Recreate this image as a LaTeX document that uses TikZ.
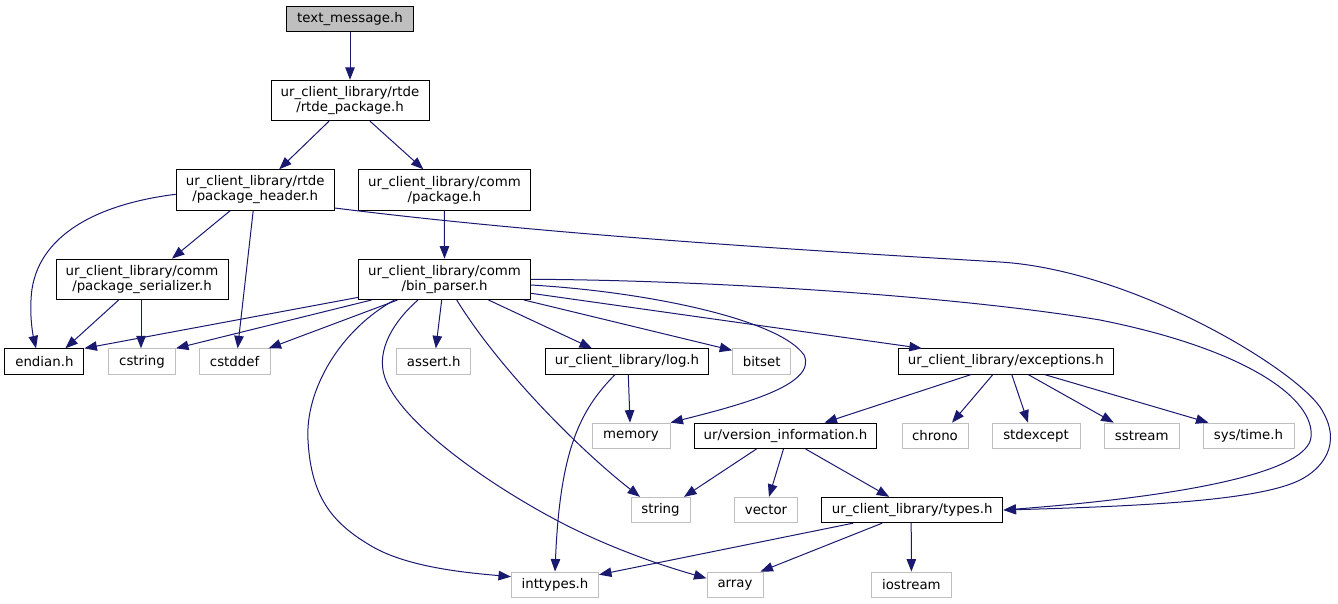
\documentclass[tikz,border=0pt]{standalone}
\usepackage{fontspec}
\setmainfont{DejaVu Sans}
\usetikzlibrary{arrows.meta}
\definecolor{edgeblue}{HTML}{191970}
\definecolor{sysgray}{HTML}{BFBFBF}
\tikzset{
  hdr/.style={draw=black, line width=1pt, fill=white, inner xsep=2pt, inner ysep=0pt,
    minimum height=25.3pt, align=center, font=\fontsize{13.33}{15}\selectfont},
  hdrtwo/.style={hdr, minimum height=40.4pt},
  sys/.style={hdr, draw=sysgray},
  cur/.style={hdr, fill=sysgray},
  dep/.style={draw=edgeblue, line width=1pt, -{Triangle[length=12.5pt,width=9.5pt]}, fill=none},
}
\begin{document}
\begin{tikzpicture}[x=1pt,y=-1pt]
\useasboundingbox (0,0) rectangle (1338,604);
% row 0-3
\node[cur, minimum width=126.5pt] (tm) at (350,18.7) {text\_message.h};
\node[hdrtwo, minimum width=158pt] (rp) at (350,100.5) {ur\_client\_library/rtde\\/rtde\_package.h};
\node[hdrtwo, minimum width=158pt] (ph) at (255.2,190) {ur\_client\_library/rtde\\/package\_header.h};
\node[hdrtwo, minimum width=172pt] (cp) at (444.4,190) {ur\_client\_library/comm\\/package.h};
\node[hdrtwo, minimum width=172pt] (ps) at (142,279.3) {ur\_client\_library/comm\\/package\_serializer.h};
\node[hdrtwo, minimum width=172pt] (bp) at (444.5,279.3) {ur\_client\_library/comm\\/bin\_parser.h};
% row 4
\node[hdr, minimum width=79pt] (endian) at (44.4,361.5) {endian.h};
\node[sys, minimum width=67pt] (cstring) at (142,361.5) {cstring};
\node[sys, minimum width=71pt] (cstddef) at (234.6,361.5) {cstddef};
\node[sys, minimum width=74pt] (assert) at (433.8,361.5) {assert.h};
\node[hdr, minimum width=163pt] (log) at (627,361.5) {ur\_client\_library/log.h};
\node[sys, minimum width=58pt] (bitset) at (761.7,361.5) {bitset};
\node[hdr, minimum width=214.5pt] (exc) at (1005.8,361.5) {ur\_client\_library/exceptions.h};
% row 5
\node[sys, minimum width=78pt] (memory) at (631,435.8) {memory};
\node[hdr, minimum width=182pt] (ver) at (785.5,435.8) {ur/version\_information.h};
\node[sys, minimum width=66pt] (chrono) at (935,435.8) {chrono};
\node[sys, minimum width=88pt] (stdexcept) at (1036,435.8) {stdexcept};
\node[sys, minimum width=75pt] (sstream) at (1141.7,435.8) {sstream};
\node[sys, minimum width=91pt] (systime) at (1248.5,435.8) {sys/time.h};
% row 6
\node[sys, minimum width=59pt] (string) at (660.5,510) {string};
\node[sys, minimum width=63pt] (vector) at (766,510) {vector};
\node[hdr, minimum width=181.5pt] (types) at (912.2,510) {ur\_client\_library/types.h};
% row 7
\node[sys, minimum width=87pt] (inttypes) at (555,584.7) {inttypes.h};
\node[sys, minimum width=56pt] (array) at (735,584.7) {array};
\node[sys, minimum width=80pt] (iostream) at (911.4,584.7) {iostream};

% edges
\draw[dep] (tm.south) -- (rp.north);
\draw[dep] ([xshift=-21pt]rp.south) -- ([xshift=24pt]ph.north);
\draw[dep] ([xshift=20pt]rp.south) -- ([xshift=-21pt]cp.north);
\draw[dep] ([yshift=-4.3pt]ph.west) .. controls (90,205) and (33,240) .. (31,300)
  .. controls (30,320) and (33,335) .. ([xshift=-8.4pt]endian.north);
\draw[dep] ([xshift=-25pt]ph.south) -- ([xshift=30pt]ps.north);
\draw[dep] ([xshift=-2pt]ph.south) -- ([xshift=3pt]cstddef.north);
\draw[dep] ([yshift=-18pt]ph.east) .. controls (550,235) and (800,250) .. (1000,262)
  .. controls (1130,270) and (1290,365) .. (1320,407)
  .. controls (1345,445) and (1320,470) .. (1300,480)
  .. controls (1260,500) and (1150,506) .. (types.east);
\draw[dep] (cp.south) -- (bp.north);
\draw[dep] ([xshift=-23.3pt]ps.south) -- ([xshift=21pt]endian.north);
\draw[dep] ([xshift=-1pt]ps.south) -- ([xshift=-1pt]cstring.north);
\draw[dep] ([yshift=2.6pt]bp.south west) -- (endian.north east);
\draw[dep] ([xshift=-73pt]bp.south) -- (cstring.north east);
\draw[dep] ([xshift=-47pt]bp.south) -- ([xshift=-2pt]cstddef.north east);
\draw[dep] ([xshift=-50pt]bp.south) .. controls (340,330) and (305,390) .. (308,440)
  .. controls (311,500) and (335,525) .. (373,547)
  .. controls (410,568) and (470,573) .. ([yshift=8pt]inttypes.west);
\draw[dep] ([xshift=-26.5pt]bp.south) .. controls (395,320) and (375,350) .. (385,378)
  .. controls (400,420) and (480,480) .. (560,522)
  .. controls (610,548) and (660,565) .. ([yshift=6.4pt]array.west);
\draw[dep] ([xshift=-2.8pt]bp.south) -- ([xshift=2pt]assert.north);
\draw[dep] ([xshift=12.2pt]bp.south) .. controls (500,370) and (580,450) .. ([xshift=-20.5pt]string.north);
\draw[dep] ([xshift=44pt]bp.south) -- ([xshift=-35pt]log.north);
\draw[dep] ([xshift=-7pt]bp.south east) -- ([yshift=-2pt]bitset.north west);
\draw[dep] ([yshift=-5.7pt]bp.east) .. controls (650,292) and (780,320) .. (804,355)
  .. controls (818,385) and (740,405) .. (memory.north east);
\draw[dep] ([yshift=-14pt]bp.east) -- ([xshift=-84pt]exc.north);
\draw[dep] (bp.east) .. controls (700,280) and (950,295) .. (1100,320)
  .. controls (1250,350) and (1315,400) .. (1311,437)
  .. controls (1308,470) and (1200,495) .. (types.east);
\draw[dep] ([xshift=1.3pt]log.south) -- ([xshift=-1pt]memory.north);
\draw[dep] ([xshift=-12pt]log.south) .. controls (580,410) and (560,450) .. (inttypes.north);
\draw[dep] ([xshift=-35pt]exc.south) -- ([xshift=39pt]ver.north);
\draw[dep] ([xshift=-13pt]exc.south) -- ([xshift=17pt]chrono.north);
\draw[dep] ([xshift=6pt]exc.south) -- ([xshift=-8pt]stdexcept.north);
\draw[dep] ([xshift=22.5pt]exc.south) -- ([xshift=-28pt]sstream.north);
\draw[dep] ([xshift=39pt]exc.south) -- ([xshift=-40pt]systime.north);
\draw[dep] ([xshift=-29pt]ver.south) -- ([xshift=23.5pt]string.north);
\draw[dep] ([xshift=-2pt]ver.south) -- ([xshift=3pt]vector.north);
\draw[dep] ([xshift=20pt]ver.south) -- ([xshift=-23pt]types.north);
\draw[dep] ([xshift=-59pt]types.south) -- ([yshift=10pt]inttypes.east);
\draw[dep] ([xshift=-30pt]types.south) -- ([xshift=-3pt]array.north east);
\draw[dep] ([xshift=-1pt]types.south) -- (iostream.north);
\end{tikzpicture}
\end{document}
